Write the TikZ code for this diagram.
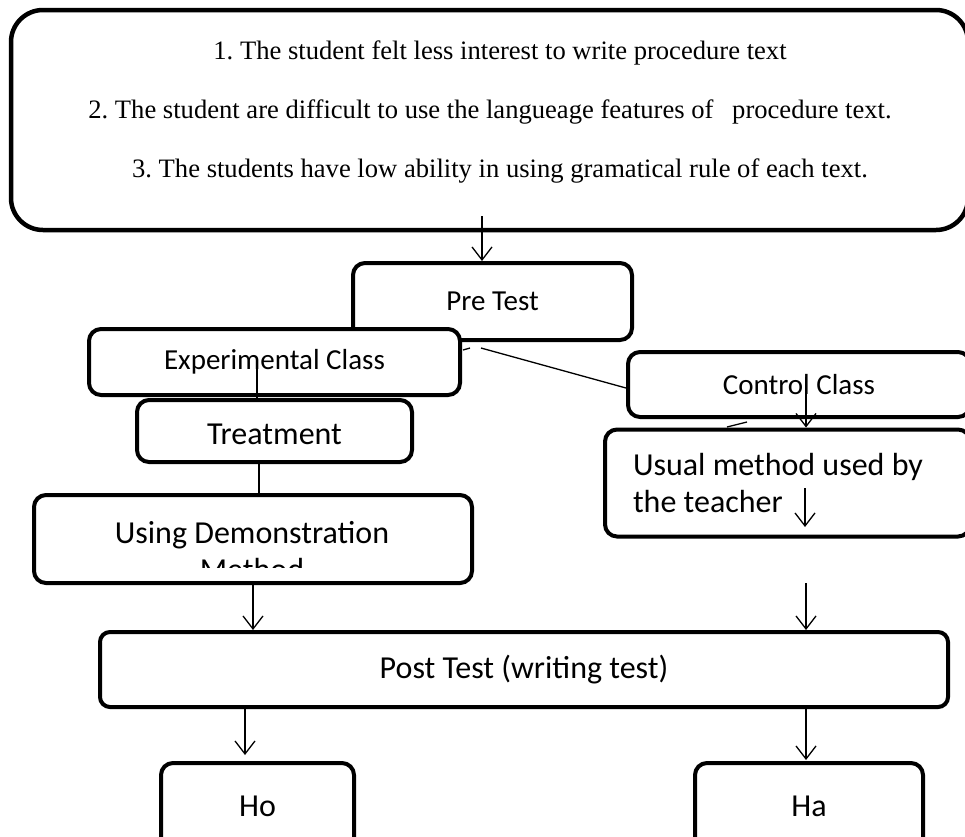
\documentclass[tikz,border=0pt]{standalone}
\usepackage{fontspec}
\setmainfont{Carlito}
\newfontfamily\problemfont{Liberation Serif}
\usetikzlibrary{positioning,arrows.meta}
\frenchspacing

\begin{document}
\begin{tikzpicture}[%
    x=1pt,
    y=-1pt,
    >={Straight Barb[length=13pt,width=20pt]},
    line width=1.3pt,
    stage/.style={%
      rectangle,
      rounded corners=12pt,
      draw,
      line width=4pt,
      fill=white,
      inner sep=0pt,
      font=\fontsize{29}{35}\selectfont
    },
    bigstage/.style={%
      stage,
      font=\fontsize{32}{37}\selectfont
    },
    plaintext/.style={%
      font=\fontsize{32}{37}\selectfont,
      anchor=base
    }
  ]
    \useasboundingbox (0,0) rectangle (965,836);

    % problems
    \node[stage, rounded corners=32pt, line width=4.5pt,
          minimum width=957pt, minimum height=220pt] (issues) at (489.5,120) {};
    \node[font=\problemfont\fontsize{26.6}{59}\selectfont, align=center] (issuetext) at (490,112)
      {\hspace*{20pt}1. The student felt less interest to write procedure text\\
       2. The student are difficult to use the langueage features of\hspace{12pt} procedure text.\\
       \hspace*{20pt}3. The students have low ability in using gramatical rule of each text.};

    % stages
    \node[stage, minimum width=279pt, minimum height=77pt]     (pretest)   at (492.5,301.5) {Pre Test};
    \node[stage, minimum width=371pt, minimum height=66pt]     (expclass)  at (274.5,362)   {Experimental Class};
    \node[bigstage, minimum width=275pt, minimum height=62pt,
          text height=27pt, text depth=0pt]                    (treatment) at (274.5,431)   {Treatment};
    \node[bigstage, minimum width=438pt, minimum height=88pt]  (demo)      at (253,539)     {};
    \begin{scope}
      \clip (40,500) rectangle (466,567);
      \node[plaintext] (demoname)   at (252,543) {Using Demonstration};
      \node[plaintext] (demomethod) at (252,580) {Method};
    \end{scope}
    \node[stage, minimum width=342pt, minimum height=65pt]     (ctrlclass) at (799,384.5)   {Control Class};
    \node[bigstage, minimum width=365pt, minimum height=107pt,
          text width=309pt, align=flush left]                  (usual)     at (787.5,483)   {Usual method used by\\the teacher};
    \node[bigstage, rounded corners=10pt,
          minimum width=848pt, minimum height=75pt]            (posttest)  at (524,669.5)   {Post Test (writing test)};
    \node[bigstage, minimum width=193pt, minimum height=87pt]  (ho)        at (257.5,806.5) {Ho};
    \node[bigstage, minimum width=228pt, minimum height=87pt]  (ha)        at (809,806.5)   {Ha};

    \coordinate (issuesout)  at (482,216);
    \coordinate (pretestout) at (481,348);
    \coordinate (tickstart)  at (463,350);
    \coordinate (tickend)    at (470,348);
    \coordinate (expout)     at (257,368);
    \coordinate (treatout)   at (259,462);
    \coordinate (ctrlout)    at (806,377);
    \coordinate (gapstart)   at (727,427);
    \coordinate (gapend)     at (747,422);
    \coordinate (usualout)   at (805,488);
    \coordinate (usualend)   at (805,527);
    \coordinate (usualbelow) at (806,583);
    \coordinate (hoin)       at (245,755);
    \coordinate (hain)       at (806,760);

    \draw[->] (issuesout) -- (issuesout |- pretest.north);
    \draw (pretestout) -- ([yshift=-3.5pt]ctrlclass.west);
    \draw (tickstart) -- (tickend);
    \draw (expout) -- (expout |- treatment.north);
    \draw (treatout) -- (treatout |- demo.north);
    \draw[->] (ctrlout) -- (ctrlout |- usual.north);
    \draw (gapstart) -- (gapend);
    \draw[->] (usualout) -- (usualend);
    \draw[->] (demo.south) -- (demo.south |- posttest.north);
    \draw[->] (usualbelow) -- (usualbelow |- posttest.north);
    \draw[->] (hoin |- posttest.south) -- (hoin);
    \draw[->] (hain |- posttest.south) -- (hain);
  \end{tikzpicture}
\end{document}
